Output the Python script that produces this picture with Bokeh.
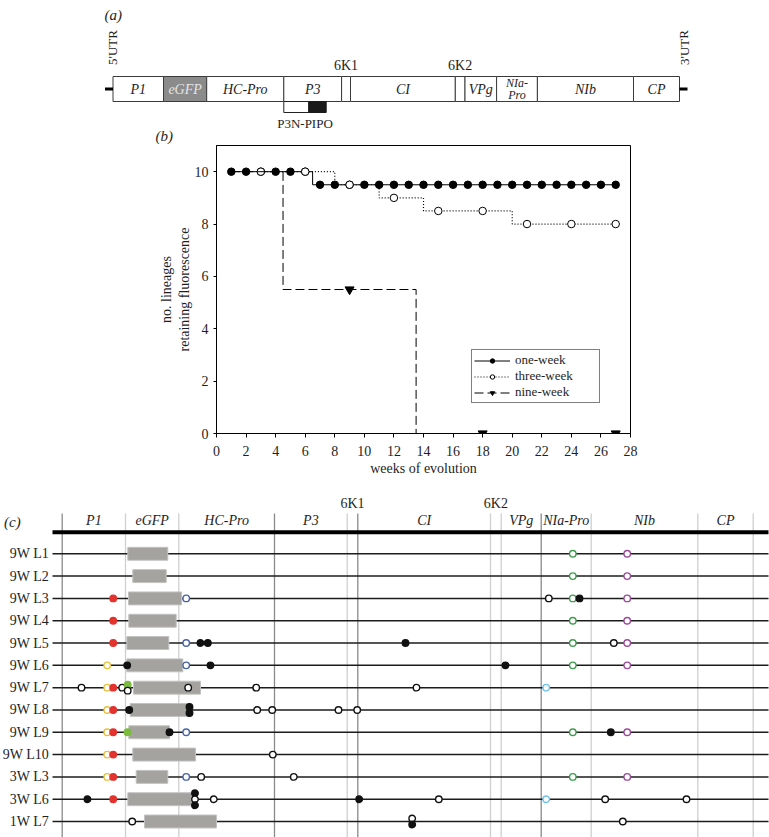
from collections import defaultdict
from bokeh.plotting import figure
from bokeh.layouts import column
from bokeh.models import Range1d, ColumnDataSource, FixedTicker
from bokeh.core.properties import value
from bokeh.embed import file_html
from bokeh.resources import INLINE

SERIF = "Liberation Serif"

# ---------------- Panel (a): genome map (schematic units) ----------------
genome_genes = ["P1", "eGFP", "HC-Pro", "P3", "6K1", "CI", "6K2", "VPg", "NIa-\nPro", "NIb", "CP"]
genome_starts = [112.5, 163.0, 206.2, 283.3, 341.1, 350.0, 454.8, 464.5, 496.1, 536.9, 633.0]
genome_ends = [163.0, 206.2, 283.3, 341.1, 350.0, 454.8, 464.5, 496.1, 536.9, 633.0, 679.0]
pipo_start, pipo_split, pipo_end = 283.3, 308.3, 325.7

# ---------------- Panel (b): lineages retaining fluorescence ----------------
x_ticks = [0, 2, 4, 6, 8, 10, 12, 14, 16, 18, 20, 22, 24, 26, 28]
y_ticks = [0, 2, 4, 6, 8, 10]
one_week_weeks = [1, 2, 3, 4, 5, 6, 7, 8, 9, 10, 11, 12, 13, 14, 15, 16, 17, 18, 19, 20,
                  21, 22, 23, 24, 25, 26, 27]
one_week_values = [10, 10, 10, 10, 10, 10, 9.5, 9.5, 9.5, 9.5, 9.5, 9.5, 9.5, 9.5, 9.5, 9.5,
                   9.5, 9.5, 9.5, 9.5, 9.5, 9.5, 9.5, 9.5, 9.5, 9.5, 9.5]
three_week_weeks = [3, 6, 9, 12, 15, 18, 21, 24, 27]
three_week_values = [10, 10, 9.5, 9, 8.5, 8.5, 8, 8, 8]
nine_week_weeks = [9, 18, 27]
nine_week_values = [5.5, 0, 0]
# step curves (week at which the level changes, level after it)
one_week_curve_weeks = [1, 6.5, 27]
one_week_curve_levels = [10, 9.5, 9.5]
three_week_curve_weeks = [3, 8, 11, 14, 20, 27]
three_week_curve_levels = [10, 9.5, 9, 8.5, 8, 8]
nine_week_curve_weeks = [1, 4.5, 13.5]
nine_week_curve_levels = [10, 5.5, 0]

# ---------------- Panel (c): mutations per lineage ----------------
map_genes = ["P1", "eGFP", "HC-Pro", "P3", "6K1", "CI", "6K2", "VPg", "NIa-Pro", "NIb", "CP"]
map_bounds = [61.7, 125.0, 178.3, 274.0, 346.7, 357.3, 490.0, 500.7, 540.7, 590.7, 697.3, 752.7]
lineages = ["9W L1", "9W L2", "9W L3", "9W L4", "9W L5", "9W L6", "9W L7", "9W L8",
            "9W L9", "9W L10", "3W L3", "3W L6", "1W L7"]
egfp_left = [127.3, 132.3, 128.0, 128.3, 126.3, 126.3, 133.0, 129.7, 128.3, 132.3, 135.7, 127.3, 144.0]
egfp_right = [167.3, 165.7, 181.0, 175.7, 168.3, 182.3, 200.0, 189.0, 169.0, 195.0, 167.3, 191.0, 216.0]

mut_row = [0, 0,
           1, 1,
           2, 2, 2, 2, 2, 2,
           3, 3, 3,
           4, 4, 4, 4, 4, 4, 4, 4,
           5, 5, 5, 5, 5, 5, 5,
           6, 6, 6, 6, 6, 6, 6, 6, 6, 6,
           7, 7, 7, 7, 7, 7, 7, 7, 7,
           8, 8, 8, 8, 8, 8, 8, 8,
           9, 9, 9,
           10, 10, 10, 10, 10, 10, 10,
           11, 11, 11, 11, 11, 11, 11, 11, 11, 11, 11,
           12, 12, 12, 12]
mut_pos = [572.3, 626.7,
           572.3, 626.7,
           112.7, 185.7, 548.3, 572.3, 579.0, 626.7,
           112.7, 572.3, 626.7,
           112.7, 185.7, 200.0, 207.3, 405.0, 572.3, 613.3, 626.7,
           106.7, 126.7, 185.7, 210.0, 505.0, 572.3, 626.7,
           81.0, 106.7, 112.7, 121.7, 127.2, 127.2, 187.7, 255.7, 416.0, 545.7,
           106.7, 112.7, 128.7, 189.0, 189.0, 256.7, 271.7, 338.0, 356.7,
           106.7, 112.7, 127.0, 169.0, 185.7, 572.3, 610.3, 626.7,
           106.7, 112.7, 272.3,
           106.7, 112.7, 185.7, 200.7, 293.3, 572.3, 626.7,
           87.0, 112.7, 194.5, 194.5, 194.5, 213.3, 358.7, 438.3, 545.7, 604.7, 686.0,
           131.7, 411.7, 411.7, 622.3]
mut_kind = ["green", "purple",
            "green", "purple",
            "red", "blue", "open", "green", "black", "purple",
            "red", "green", "purple",
            "red", "blue", "black", "black", "black", "green", "open", "purple",
            "yellow", "black", "blue", "black", "black", "green", "purple",
            "open", "yellow", "red", "open", "lime", "open", "open", "open", "open", "cyan",
            "yellow", "red", "black", "black", "black", "open", "open", "open", "open",
            "yellow", "red", "lime", "black", "blue", "green", "black", "purple",
            "yellow", "red", "open",
            "yellow", "red", "blue", "open", "open", "green", "purple",
            "black", "red", "black", "open", "black", "open", "black", "open", "cyan", "open", "open",
            "open", "open", "black", "open"]

KIND_STYLE = {  # (line colour, fill colour)
    "red": ("#e2332e", "#e2332e"),
    "yellow": ("#e8c23a", "white"),
    "lime": ("#7cbb40", "#7cbb40"),
    "blue": ("#4763a6", "white"),
    "black": ("#111111", "#111111"),
    "open": ("#111111", "white"),
    "green": ("#3f9e4e", "white"),
    "purple": ("#9a4c9a", "white"),
    "cyan": ("#6cc3ea", "white"),
}

TXT = "#1e1e1e"
W = 769
HA, HB = 144, 337
HC = 837 - HA - HB
ROW0, ROWSTEP = 553.3, 22.31   # screen row placement of panel (c)


def blank(height, y_range):
    f = figure(width=W, height=height, x_range=Range1d(0, W), y_range=y_range,
               output_backend="svg", toolbar_location=None, min_border=0,
               x_axis_location=None, y_axis_location=None)
    f.outline_line_color = None
    f.grid.visible = False
    f.frame_align = False
    return f


# ======================= Panel (a) =======================
fa = blank(HA, Range1d(HA, 0))
box_top, box_bot, mid = 76, 101, 88.5
fills = ["#8b8b8b" if g == "eGFP" else "white" for g in genome_genes]
fa.quad(left=genome_starts, right=genome_ends, top=box_top, bottom=box_bot,
        fill_color=fills, line_color="#3a3a3a", line_width=1)
fa.segment(x0=[genome_starts[0] - 8, genome_ends[-1]], x1=[genome_starts[0], genome_ends[-1] + 8],
           y0=[mid, mid], y1=[mid, mid], line_color="black", line_width=3)
centers = [(s + e) / 2 for s, e in zip(genome_starts, genome_ends)]
inside = [i for i, g in enumerate(genome_genes) if not g.startswith("6K") and "\n" not in g]
fa.text(x=[centers[i] for i in inside], y=[mid] * len(inside), text=[genome_genes[i] for i in inside],
        text_align="center", text_baseline="middle", text_font=value(SERIF),
        text_font_style="italic", text_font_size="14px",
        text_color=["#e4e4e4" if genome_genes[i] == "eGFP" else TXT for i in inside])
two_line = [i for i, g in enumerate(genome_genes) if "\n" in g]
fa.text(x=[centers[i] for i in two_line], y=[mid] * len(two_line), text=[genome_genes[i] for i in two_line],
        text_align="center", text_baseline="middle", text_font=value(SERIF),
        text_font_style="italic", text_font_size="12px", text_color=TXT, text_line_height=0.8)
small = [i for i, g in enumerate(genome_genes) if g.startswith("6K")]
fa.text(x=[centers[i] for i in small], y=[65] * len(small), text=[genome_genes[i] for i in small],
        text_align="center", text_baseline="middle", text_font=value(SERIF),
        text_font_size="14px", text_color=TXT)
fa.text(x=[genome_starts[0] - 0.5, genome_ends[-1] + 4.5], y=[47, 47], text=["5'UTR", "3'UTR"],
        angle=1.5708, text_align="center", text_baseline="middle", text_font=value(SERIF),
        text_font_size="13px", text_color=TXT)
fa.quad(left=[pipo_start], right=[pipo_split], top=[box_bot], bottom=[112],
        fill_color="white", line_color="#222222", line_width=1)
fa.quad(left=[pipo_split], right=[pipo_end], top=[box_bot], bottom=[112],
        fill_color="#1a1a1a", line_color="#1a1a1a", line_width=1)
fa.text(x=[(pipo_start + pipo_end) / 2], y=[123], text=["P3N-PIPO"], text_align="center",
        text_baseline="middle", text_font=value(SERIF), text_font_size="13px", text_color=TXT)
fa.text(x=[104, 155], y=[14, 135.5], text=["(a)", "(b)"], text_align="left", text_baseline="middle",
        text_font=value(SERIF), text_font_style="italic", text_font_size="15px", text_color=TXT)

# ======================= Panel (b) =======================
fb = figure(width=W, height=HB, x_range=Range1d(0, 28), y_range=Range1d(0, 11),
            output_backend="svg", toolbar_location=None,
            min_border_left=216, min_border_right=139, min_border_top=1, min_border_bottom=48)
fb.frame_align = False
fb.outline_line_color = "black"
fb.outline_line_width = 1
fb.grid.grid_line_color = None
fb.xaxis.ticker = FixedTicker(ticks=x_ticks)
fb.yaxis.ticker = FixedTicker(ticks=y_ticks)
for ax in fb.axis:
    ax.axis_line_color = "black"
    ax.major_tick_line_color = "black"
    ax.minor_tick_line_color = None
    ax.major_tick_in = 0
    ax.major_label_text_font = SERIF
    ax.major_label_text_font_size = "14px"
    ax.major_label_text_color = TXT
    ax.axis_label_text_font = SERIF
    ax.axis_label_text_font_size = "14px"
    ax.axis_label_text_font_style = "normal"
    ax.axis_label_text_color = TXT
fb.xaxis.major_tick_out = 4
fb.yaxis.major_tick_out = 3
fb.xaxis.major_label_standoff = 8
fb.yaxis.major_label_standoff = 5
fb.xaxis.axis_label_standoff = 2
fb.yaxis.axis_label_standoff = 0
fb.xaxis.axis_label = "weeks of evolution"
fb.yaxis.axis_label = "no. lineages\nretaining fluorescence"

fb.step(x=one_week_curve_weeks, y=one_week_curve_levels, mode="after", line_color="black",
        line_width=1, legend_label="one-week")
fb.scatter(x=one_week_weeks, y=one_week_values, marker="circle", size=7.5, fill_color="black",
           line_color="black", legend_label="one-week")
fb.step(x=three_week_curve_weeks, y=three_week_curve_levels, mode="after", line_color="black",
        line_width=1.2, line_dash="1 2", legend_label="three-week")
fb.scatter(x=three_week_weeks, y=three_week_values, marker="circle", size=7.5, fill_color="white",
           line_color="black", line_width=1, legend_label="three-week")
fb.step(x=nine_week_curve_weeks, y=nine_week_curve_levels, mode="after", line_color="black",
        line_width=1, line_dash="9 4", legend_label="nine-week")
fb.scatter(x=nine_week_weeks, y=nine_week_values, marker="inverted_triangle", size=9,
           fill_color="black", line_color="black", legend_label="nine-week")
lg = fb.legend[0]
lg.location = (255, 30)
lg.border_line_color = "black"
lg.border_line_width = 1
lg.background_fill_color = "white"
lg.background_fill_alpha = 1
lg.padding = 2
lg.spacing = 0
lg.margin = 0
lg.label_height = 11
lg.glyph_height = 11
lg.glyph_width = 36
lg.label_width = 82
lg.label_standoff = 5
lg.label_text_font = SERIF
lg.label_text_font_size = "13px"
lg.label_text_line_height = 1.0
lg.label_text_color = TXT

# ======================= Panel (c) =======================
fc_top = HA + HB
fc = blank(HC, Range1d((837 - ROW0) / ROWSTEP, (fc_top - ROW0) / ROWSTEP))
rows = list(range(len(lineages)))
dark_bounds = {0, 3, 5, 8}
sep_colors = ["#8a8a8a" if i in dark_bounds else "#cfcfcf" for i in range(len(map_bounds))]
fc.segment(x0=map_bounds, x1=map_bounds, y0=[-1.81] * len(map_bounds), y1=[12.8] * len(map_bounds),
           line_color=sep_colors, line_width=1.3)
map_centers = [(map_bounds[i] + map_bounds[i + 1]) / 2 for i in range(len(map_genes))]
big = [i for i, g in enumerate(map_genes) if not g.startswith("6K")]
fc.text(x=[map_centers[i] for i in big], y=[-1.49] * len(big), text=[map_genes[i] for i in big],
        text_align="center", text_baseline="middle", text_font=value(SERIF), text_font_style="italic",
        text_font_size="14px", text_color=TXT)
sm = [i for i, g in enumerate(map_genes) if g.startswith("6K")]
fc.text(x=[map_centers[i] for i in sm], y=[-2.27] * len(sm), text=[map_genes[i] for i in sm],
        text_align="center", text_baseline="middle", text_font=value(SERIF),
        text_font_size="14px", text_color=TXT)
fc.segment(x0=[52], x1=[768], y0=[-0.97], y1=[-0.97], line_color="black", line_width=4)
fc.segment(x0=[52] * len(rows), x1=[768] * len(rows), y0=rows, y1=rows, line_color="#1c1c1c",
           line_width=1.5)
fc.quad(left=egfp_left, right=egfp_right, top=[r - 0.29 for r in rows], bottom=[r + 0.29 for r in rows],
        fill_color="#a4a39f", line_color="#c2c2c2", line_width=1)

groups = defaultdict(list)
for i, key in enumerate(zip(mut_row, mut_pos)):
    groups[key].append(i)
offs = [0.0] * len(mut_row)
for idx in groups.values():
    n = len(idx)
    for k, i in enumerate(idx):
        offs[i] = (k - (n - 1) / 2) * 0.27
msrc = ColumnDataSource(dict(
    x=mut_pos,
    y=[r + o for r, o in zip(mut_row, offs)],
    line=[KIND_STYLE[k][0] for k in mut_kind],
    fill=[KIND_STYLE[k][1] for k in mut_kind],
))
fc.scatter(x="x", y="y", source=msrc, marker="circle", size=6.5, line_color="line",
           fill_color="fill", line_width=1.4)
fc.text(x=[48.5] * len(rows), y=rows, text=lineages, text_align="right", text_baseline="middle",
        text_font=value(SERIF), text_font_size="14px", text_color=TXT)
fc.text(x=[3.5], y=[-1.41], text=["(c)"], text_align="left", text_baseline="middle",
        text_font=value(SERIF), text_font_style="italic", text_font_size="15px", text_color=TXT)

layout = column(fa, fb, fc, spacing=0)
open("out.html", "w").write(file_html(layout, INLINE))
